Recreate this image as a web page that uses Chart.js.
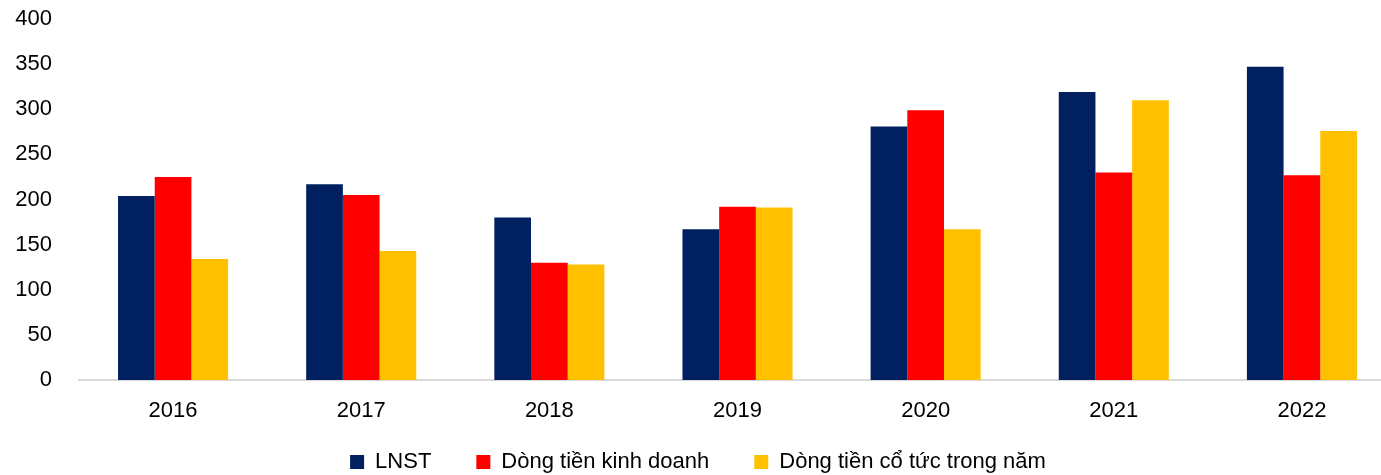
<!DOCTYPE html>
<html>
<head>
<meta charset="utf-8">
<script src="https://cdn.jsdelivr.net/npm/chart.js@4.4.0/dist/chart.umd.min.js"></script>
<style>
  html, body { margin: 0; padding: 0; background: #fff; overflow: hidden; }
  #wrap { width: 1396px; height: 475px; position: relative; }
</style>
</head>
<body>
<div id="wrap"><canvas id="myChart"></canvas></div>
<script>
const years = ['2016', '2017', '2018', '2019', '2020', '2021', '2022']
const lnst = [204, 217, 180, 167, 281, 319, 347]
const dongTienKD = [225, 205, 130, 192, 299, 230, 227]
const coTuc = [134, 143, 128, 191, 167, 310, 276]
const yTicks = [0, 50, 100, 150, 200, 250, 300, 350, 400]

Chart.defaults.font.family = 'Arial, "Liberation Sans", sans-serif'
Chart.defaults.color = '#000000'

// legend padding is also its top gap, so fix its height and stretch it upward after layout
const legendHeight = {
    id: 'legendHeight',
    beforeInit(chart) {
        const fit = chart.legend.fit
        chart.legend.fit = function() {
            fit.bind(chart.legend)()
            this.height = 34
        }
    },
    afterLayout(chart) {
        chart.legend.top -= 35
        chart.legend.height += 35
    }
}

const ctx = document.getElementById('myChart')
new Chart(ctx, {
    type: 'bar',
    data: {
        labels: years,
        datasets: [
            { label: 'LNST', data: lnst, backgroundColor: '#002060' },
            { label: 'Dòng tiền kinh doanh', data: dongTienKD, backgroundColor: '#FF0000' },
            { label: 'Dòng tiền cổ tức trong năm', data: coTuc, backgroundColor: '#FFC000' }
        ]
    },
    plugins: [legendHeight],
    options: {
        responsive: true,
        maintainAspectRatio: false,
        animation: false,
        layout: {
            padding: 0
        },
        datasets: {
            bar: { barPercentage: 1, categoryPercentage: 0.585 }
        },
        plugins: {
            tooltip: { enabled: false },
            legend: {
                position: 'bottom',
                labels: {
                    boxWidth: 14,
                    boxHeight: 14,
                    padding: 45,
                    font: { size: 22 }
                }
            }
        },
        scales: {
            x: {
                grid: { display: false, drawTicks: false },
                border: { color: '#d9d9d9', width: 2 },
                ticks: { padding: 18, font: { size: 22 } },
                afterFit: function(axis) {
                    axis.height = 61
                    axis.paddingLeft = 0
                    axis.paddingRight = 0
                }
            },
            y: {
                min: 0,
                max: 400,
                afterBuildTicks: function(axis) {
                    axis.ticks = yTicks.map(v => ({ value: v }))
                },
                afterFit: function(axis) {
                    axis.width = 79
                    axis.paddingTop = 19
                    axis.paddingBottom = 0
                },
                grid: { display: false, drawTicks: false },
                border: { display: false },
                ticks: { padding: 27, font: { size: 22 } }
            }
        }
    }
})
</script>
</body>
</html>
